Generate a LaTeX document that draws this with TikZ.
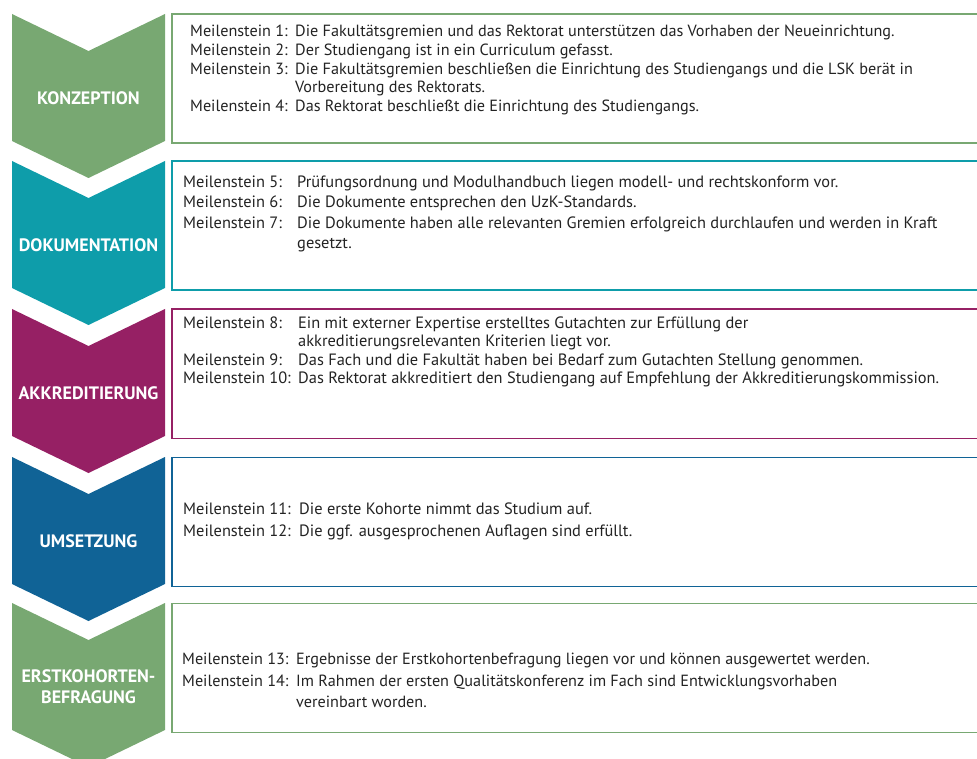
\documentclass[tikz,border=0pt]{standalone}
\usepackage{fontspec}
\setmainfont{PT Sans}
\usetikzlibrary{positioning}
\definecolor{kgreen}{RGB}{120,168,114}
\definecolor{kteal}{RGB}{14,157,170}
\definecolor{kmag}{RGB}{150,32,100}
\definecolor{kblue}{RGB}{16,99,150}
\definecolor{ktext}{RGB}{35,35,35}

\begin{document}
\begin{tikzpicture}[x=1pt,y=-1pt,
  phase/.style={text=white,font=\bfseries\fontsize{18}{21}\selectfont,align=center,inner sep=0pt},
  msbox/.style={draw=#1,line width=1.8pt,fill=white,anchor=north west,minimum width=815pt,minimum height=129pt,inner sep=0pt},
  mstext/.style={anchor=west,inner sep=0pt,text=ktext}]
\useasboundingbox(0,0)rectangle(977,759);
% Phasen als Pfeile, rechts daneben die Kaesten
\foreach \pc/\py/\pn [count=\i] in {kgreen/14/KONZEPTION,kteal/161/DOKUMENTATION,
  kmag/309/AKKREDITIERUNG,kblue/457/UMSETZUNG,kgreen/603/{ERSTKOHORTEN-\\BEFRAGUNG}}{
\fill[\pc](12,\py)--++(76.5,37)--++(76.5,-37)--++(0,127)--++(-76.5,37)--++(-76.5,-37)--cycle;
\node[phase](p\i) at(88.5,\py+84){\pn};
\node[msbox=\pc](b\i) at(171,\py-0.5){};
}
\node[mstext,font=\fontsize{16.2}{18.75}\selectfont](m1) at(190,70.5){\begin{tabular}{@{}p{105pt}@{}l@{}}
Meilenstein 1: & Die Fakultätsgremien und das Rektorat unterstützen das Vorhaben der Neueinrichtung.\\
Meilenstein 2: & Der Studiengang ist in ein Curriculum gefasst.\\
Meilenstein 3: & Die Fakultätsgremien beschließen die Einrichtung des Studiengangs und die LSK berät in\\
 & Vorbereitung des Rektorats.\\
Meilenstein 4: & Das Rektorat beschließt die Einrichtung des Studiengangs.
\end{tabular}};
\node[mstext,font=\fontsize{16.4}{20.5}\selectfont](m2) at(183,214){\begin{tabular}{@{}p{114pt}@{}l@{}}
Meilenstein 5: & Prüfungsordnung und Modulhandbuch liegen modell- und rechtskonform vor.\\
Meilenstein 6: & Die Dokumente entsprechen den UzK-Standards.\\
Meilenstein 7: & Die Dokumente haben alle relevanten Gremien erfolgreich durchlaufen und werden in Kraft\\
 & gesetzt.
\end{tabular}};
\node[mstext,font=\fontsize{16.4}{18.5}\selectfont](m3) at(183,352.5){\begin{tabular}{@{}p{115pt}@{}l@{}}
Meilenstein 8: & Ein mit externer Expertise erstelltes Gutachten zur Erfüllung der\\
 & akkreditierungsrelevanten Kriterien liegt vor.\\
Meilenstein 9: & Das Fach und die Fakultät haben bei Bedarf zum Gutachten Stellung genommen.\\
Meilenstein 10: & Das Rektorat akkreditiert den Studiengang auf Empfehlung der Akkreditierungskommission.
\end{tabular}};
\node[mstext,font=\fontsize{16.4}{21.5}\selectfont](m4) at(183,521){\begin{tabular}{@{}p{116pt}@{}l@{}}
Meilenstein 11: & Die erste Kohorte nimmt das Studium auf.\\
Meilenstein 12: & Die ggf. ausgesprochenen Auflagen sind erfüllt.
\end{tabular}};
\node[mstext,font=\fontsize{16.2}{21.5}\selectfont](m5) at(182,682){\begin{tabular}{@{}p{114pt}@{}l@{}}
Meilenstein 13: & Ergebnisse der Erstkohortenbefragung liegen vor und können ausgewertet werden.\\
Meilenstein 14: & Im Rahmen der ersten Qualitätskonferenz im Fach sind Entwicklungsvorhaben\\
 & vereinbart worden.
\end{tabular}};
\end{tikzpicture}
\end{document}
